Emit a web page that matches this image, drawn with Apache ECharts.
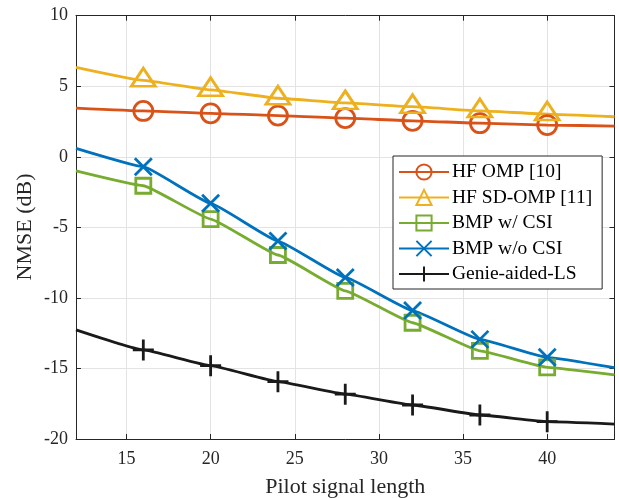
<!DOCTYPE html>
<html>
<head>
<meta charset="utf-8">
<script src="https://cdn.jsdelivr.net/npm/echarts@6/dist/echarts.min.js"></script>
<style>html,body{margin:0;padding:0;background:#fff}#c{width:619px;height:498px}</style>
</head>
<body>
<div id="c"></div>
<script>
const pilotLength = [12, 16, 20, 24, 28, 32, 36, 40, 44];
const xTicks = [15, 20, 25, 30, 35, 40];
const hfOmp = [3.45, 3.25, 3.08, 2.92, 2.74, 2.55, 2.38, 2.25, 2.18];
const hfSdOmp = [6.34, 5.42, 4.75, 4.15, 3.82, 3.55, 3.25, 3.03, 2.84];
const bmpWithCsi = [-1.0, -2.05, -4.41, -6.96, -9.5, -11.76, -13.76, -14.92, -15.46];
const bmpWithoutCsi = [0.6, -0.7, -3.3, -5.97, -8.55, -10.9, -12.94, -14.21, -14.95];
const genieLs = [-12.27, -13.69, -14.8, -15.94, -16.82, -17.59, -18.3, -18.77, -18.94];
const names = ['HF OMP [10]', 'HF SD-OMP [11]', 'BMP w/ CSI', 'BMP w/o CSI', 'Genie-aided-LS'];
const yAxisTitle = 'NMSE (dB)';

const FONT = 'Liberation Serif';
const axisColor = '#262626';

function mkData(vals) {
  return pilotLength.map((x, i) => {
    if (i === 0 || i === pilotLength.length - 1) return { value: [x, vals[i]], symbol: 'none' };
    return [x, vals[i]];
  });
}
function mkSeries(name, vals, color, symbol, size, extra) {
  return Object.assign({
    name: name, type: 'line', data: mkData(vals), smooth: 0.1, smoothMonotone: 'x',
    symbol: symbol, symbolSize: size, showAllSymbol: true,
    lineStyle: { color: color, width: 2.8 },
    itemStyle: { color: 'rgba(0,0,0,0)', borderColor: color, borderWidth: 2.8 },
    emphasis: { disabled: true }
  }, extra || {});
}

const chart = echarts.init(document.getElementById('c'), null, { renderer: 'canvas' });
chart.setOption({
  animation: false,
  backgroundColor: '#fff',
  grid: { left: 76, right: 4.5, top: 15.7, bottom: 59, containLabel: false, outerBoundsMode: 'none' },
  graphic: [{
    type: 'text', x: 25, y: 227, rotation: Math.PI / 2, silent: true,
    style: { text: yAxisTitle, fontFamily: FONT, fontSize: 22, fill: '#262626', align: 'center', verticalAlign: 'middle' }
  }],
  legend: {
    data: names, orient: 'vertical', left: 393, top: 156,
    backgroundColor: '#fff', borderColor: axisColor, borderWidth: 1,
    padding: [6, 10, 5, 5], itemGap: 5.5, itemWidth: 50, itemHeight: 19,
    textStyle: { fontFamily: FONT, fontSize: 19.5, color: '#000', padding: [0, 0, 0, -2] }
  },
  xAxis: [{
    type: 'value', min: 12, max: 44,
    name: 'Pilot signal length', nameLocation: 'middle', nameGap: 37,
    nameTextStyle: { fontFamily: FONT, fontSize: 22, color: '#262626' },
    axisLine: { show: true, onZero: false, lineStyle: { color: axisColor, width: 1 } },
    axisTick: { show: true, inside: true, length: 5, customValues: xTicks, lineStyle: { color: axisColor } },
    axisLabel: { customValues: xTicks, fontFamily: FONT, fontSize: 18, color: '#262626', margin: 11 },
    splitLine: { show: true, lineStyle: { color: '#e3e3e3', width: 1 } }
  }, {
    type: 'value', min: 12, max: 44, position: 'top',
    axisLine: { show: true, onZero: false, lineStyle: { color: axisColor, width: 1 } },
    axisTick: { show: true, inside: true, length: 5, customValues: xTicks, lineStyle: { color: axisColor } },
    axisLabel: { show: false }, splitLine: { show: false }
  }],
  yAxis: [{
    type: 'value', min: -20, max: 10, interval: 5,
    axisLine: { show: true, onZero: false, lineStyle: { color: axisColor, width: 1 } },
    axisTick: { show: true, inside: true, length: 5, lineStyle: { color: axisColor } },
    axisLabel: { fontFamily: FONT, fontSize: 18, color: '#262626', margin: 8 },
    splitLine: { show: true, lineStyle: { color: '#e3e3e3', width: 1 } }
  }, {
    type: 'value', min: -20, max: 10, interval: 5, position: 'right',
    axisLine: { show: true, onZero: false, lineStyle: { color: axisColor, width: 1 } },
    axisTick: { show: true, inside: true, length: 5, lineStyle: { color: axisColor } },
    axisLabel: { show: false }, splitLine: { show: false }
  }],
  series: [
    mkSeries(names[0], hfOmp, '#D95319', 'circle', 19),
    mkSeries(names[1], hfSdOmp, '#EDB120', 'triangle', [24, 18], { symbolOffset: [0, -3] }),
    mkSeries(names[2], bmpWithCsi, '#77AC30', 'rect', 15),
    mkSeries(names[3], bmpWithoutCsi, '#0072BD', 'path://M0,0L10,10M10,0L0,10', 17),
    mkSeries(names[4], genieLs, '#1a1a1a', 'path://M5,0L5,10M0,5L10,5', 21)
  ]
});
</script>
</body>
</html>
